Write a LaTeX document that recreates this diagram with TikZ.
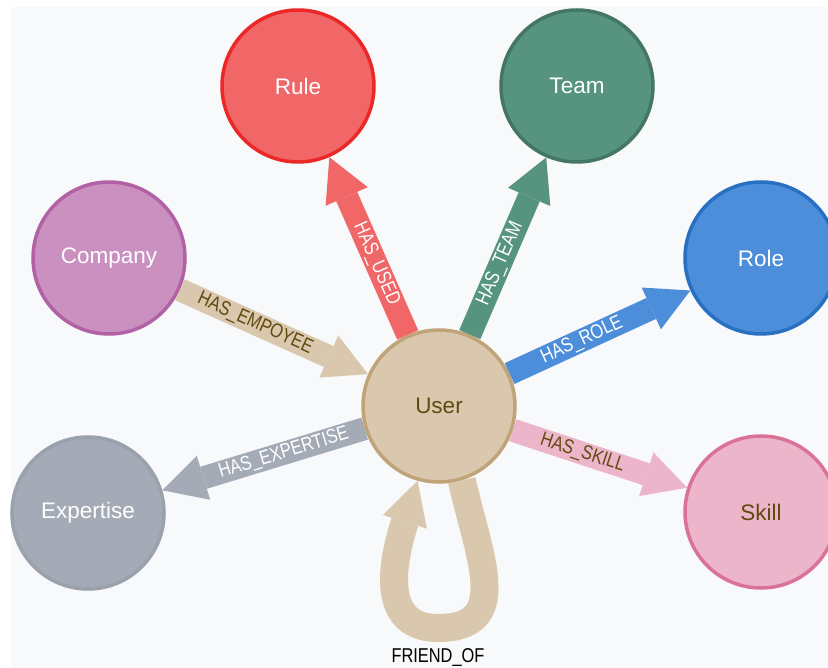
\documentclass[tikz,border=0pt]{standalone}
\usepackage{fontspec}
\setmainfont{Liberation Sans}
\newfontfamily\relfont[FakeStretch=0.82]{Liberation Sans}
\usetikzlibrary{arrows.meta}

\definecolor{canvasbg}{HTML}{F8F9FB}
\definecolor{labeldark}{HTML}{604A0E}
\definecolor{userfill}{HTML}{D9C8AE}
\definecolor{userline}{HTML}{C0A378}
\definecolor{rulefill}{HTML}{F16667}
\definecolor{ruleline}{HTML}{EB2728}
\definecolor{teamfill}{HTML}{569480}
\definecolor{teamline}{HTML}{447666}
\definecolor{companyfill}{HTML}{C990C0}
\definecolor{companyline}{HTML}{B261A5}
\definecolor{rolefill}{HTML}{4C8EDA}
\definecolor{roleline}{HTML}{2870C2}
\definecolor{expertisefill}{HTML}{A5ABB6}
\definecolor{expertiseline}{HTML}{9AA1AC}
\definecolor{skillfill}{HTML}{ECB5C9}
\definecolor{skillline}{HTML}{DA7298}

\begin{document}
\begin{tikzpicture}[x=1pt, y=-1pt,
  entity/.style={circle, draw, line width=3.5pt, minimum size=152pt, inner sep=0pt,
    font=\fontsize{22.5}{27}\selectfont, text=white},
  rel/.style={line width=23pt, -{Triangle[length=43pt, width=46pt, line width=0pt]}},
  rellabel/.style={font=\relfont\fontsize{20}{24}\selectfont, inner sep=1pt, outer sep=0pt, text=white}]
\useasboundingbox (0,0) rectangle (828,668);
\fill[white] (0,0) rectangle (828,668);
\fill[canvasbg] (11,7) rectangle (828,668);

% Nodes
\node[entity, fill=userfill, draw=userline, text=labeldark] (user) at (439,406) {User};
\node[entity, fill=rulefill, draw=ruleline] (rule) at (298,86) {Rule};
\node[entity, fill=teamfill, draw=teamline] (team) at (577,86) {Team};
\node[entity, fill=companyfill, draw=companyline] (company) at (109,258) {Company};
\node[entity, fill=rolefill, draw=roleline] (role) at (761,258) {Role};
\node[entity, fill=expertisefill, draw=expertiseline] (expertise) at (88,513) {Expertise};
\node[entity, fill=skillfill, draw=skillline, text=labeldark] (skill) at (761,512) {Skill};

% Relationships
\draw[rel, draw=userfill] (company) -- node[rellabel, sloped, pos=0.40, text=labeldark] (lblemployee) {HAS\_EMPOYEE} (user);
\draw[rel, draw=rulefill] (user) -- node[rellabel, sloped, pos=0.40] (lblused) {HAS\_USED} (rule);
\draw[rel, draw=teamfill] (user) -- node[rellabel, sloped, pos=0.40] (lblteam) {HAS\_TEAM} (team);
\draw[rel, draw=rolefill] (user) -- node[rellabel, sloped, pos=0.40] (lblrole) {HAS\_ROLE} (role);
\draw[rel, draw=expertisefill] (user) -- node[rellabel, sloped, pos=0.40] (lblexpertise) {HAS\_EXPERTISE} (expertise);
\draw[rel, draw=skillfill] (user) -- node[rellabel, sloped, pos=0.40, text=labeldark] (lblskill) {HAS\_SKILL} (skill);

% Self loop
\draw[rel, line width=28pt, draw=userfill] (user.-73) .. controls (480,560) and (512,628) .. (438,628)
  node[rellabel, below=20pt, text=black] (lblfriend) {FRIEND\_OF}
  .. controls (372,628) and (398,544) .. (user.-106);
\end{tikzpicture}
\end{document}
